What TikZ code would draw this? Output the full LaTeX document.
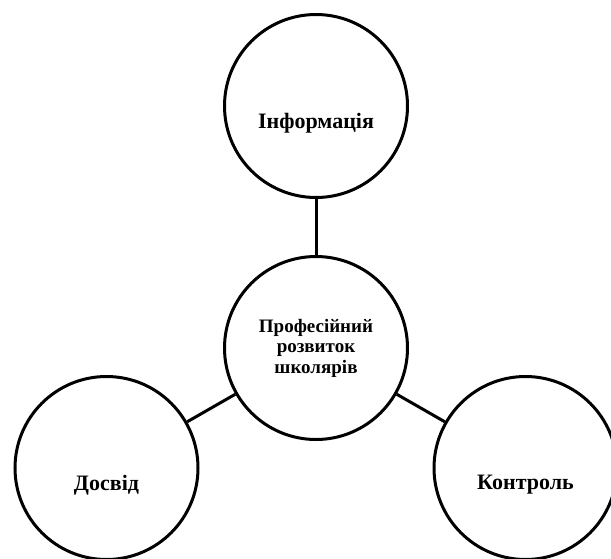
\documentclass[tikz,border=0pt]{standalone}
\usepackage{fontspec}
\setmainfont{Liberation Serif}

\begin{document}
\begin{tikzpicture}[x=1pt, y=-1pt,
    blob/.style={draw, circle, line width=3pt, inner sep=0pt, minimum size=183pt,
      align=center, font=\bfseries\fontsize{19}{20.5}\selectfont},
    word/.style={font=\bfseries\fontsize{22}{24}\selectfont, yshift=-17pt}]

  \useasboundingbox (0,0) rectangle (611,558);

  \newcommand\Mx{316};
  \newcommand\Dx{210};

  \node[blob] (prof) at (\Mx, 348) {Професійний\\розвиток\\школярів};
  \node[blob, label={[word]center:Інформація}] (info) at (\Mx, 106) {};
  \node[blob, label={[word]center:Досвід}] (dosvid) at (\Mx-\Dx+0.5, 468) {};
  \node[blob, label={[word]center:Контроль}] (kontrol) at (\Mx+\Dx-0.5, 468) {};

  \draw[line width=3pt] (info) -- (prof); %% top
  \draw[line width=3pt] (prof) -- (dosvid);
  \draw[line width=3pt] (prof) -- (kontrol);
\end{tikzpicture}
\end{document}
